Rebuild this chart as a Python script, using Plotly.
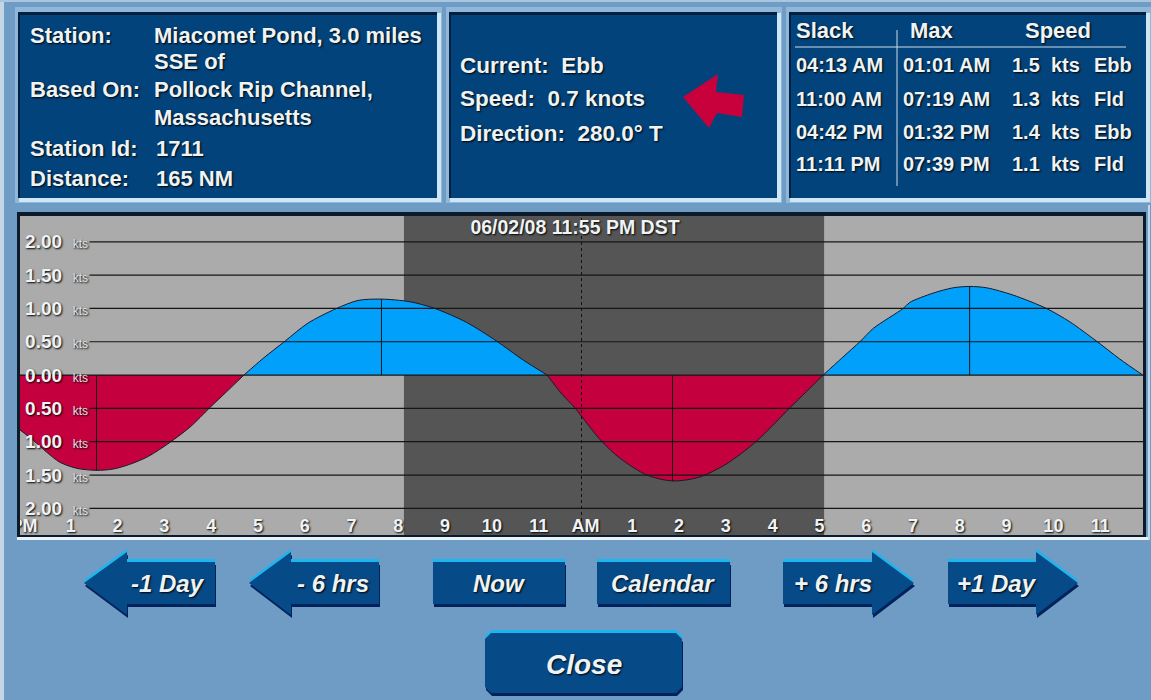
import plotly.graph_objects as go

W, H = 1151, 700
PL, PR, PT, PB = 20, 1143, 216, 535
FONT = "Liberation Sans"
TXT = "#eef3f6"
SHADOW = "1px 1px 2px #000000"

# ---------- chart data (hours after noon, knots; ebb negative) ----------
ebb1_h = [-0.09, 0.20, 0.49, 0.77, 1.13, 1.55, 1.91, 2.26, 2.66, 3.12, 3.55, 3.97, 4.33, 4.70]
ebb1_v = [-0.82, -0.98, -1.16, -1.31, -1.40, -1.43, -1.41, -1.34, -1.22, -1.01, -0.78, -0.49, -0.25, 0.0]
flood1_h = [4.70, 5.11, 5.58, 6.07, 6.68, 7.14, 7.64, 8.25, 8.78, 9.46, 10.10, 10.67, 11.18]
flood1_v = [0.0, 0.25, 0.51, 0.78, 1.00, 1.12, 1.14, 1.10, 1.00, 0.79, 0.51, 0.225, 0.0]
ebb2_h = [11.18, 11.49, 11.77, 12.06, 12.34, 12.74, 13.31, 13.86, 14.44, 15.02, 15.66, 16.37, 16.72, 17.08]
ebb2_v = [0.0, -0.28, -0.49, -0.75, -0.99, -1.25, -1.50, -1.59, -1.53, -1.33, -0.99, -0.49, -0.25, 0.0]
flood2_h = [17.08, 17.47, 17.88, 18.15, 18.79, 18.93, 19.43, 19.86, 20.21, 20.57, 21.14, 21.85, 22.35, 22.92, 23.42, 23.91]
flood2_v = [0.0, 0.25, 0.51, 0.70, 1.00, 1.09, 1.23, 1.31, 1.33, 1.31, 1.20, 1.00, 0.80, 0.51, 0.24, 0.0]
peak_hours = [1.55, 7.64, 13.86, 20.21]
peak_values = [-1.43, 1.14, -1.59, 1.33]
night_start, night_end = 8.12, 17.1
now_hour = 11.915
hour_range = [-0.085, 23.915]
kts_range = [-2.40, 2.387]
y_ticks = [2.0, 1.5, 1.0, 0.5, 0.0, -0.5, -1.0, -1.5, -2.0]
y_labels = ["2.00", "1.50", "1.00", "0.50", "0.00", "0.50", "1.00", "1.50", "2.00"]
x_ticks = list(range(24))
x_labels = ["PM", "1", "2", "3", "4", "5", "6", "7", "8", "9", "10", "11",
            "AM", "1", "2", "3", "4", "5", "6", "7", "8", "9", "10", "11"]
grid_start = 1.4
chart_title = "06/02/08 11:55 PM DST"

# ---------- panel text ----------
station_keys = ["Station:", "Based On:", "Station Id:", "Distance:"]
station_vals = ["Miacomet Pond, 3.0 miles", "SSE of", "Pollock Rip Channel,", "Massachusetts", "1711", "165 NM"]
current_lines = ["Current:  Ebb", "Speed:  0.7 knots", "Direction:  280.0° T"]
table_heads = ["Slack", "Max", "Speed"]
slack_times = ["04:13 AM", "11:00 AM", "04:42 PM", "11:11 PM"]
max_times = ["01:01 AM", "07:19 AM", "01:32 PM", "07:39 PM"]
max_speeds = ["1.5  kts", "1.3  kts", "1.4  kts", "1.1  kts"]
max_kinds = ["Ebb", "Fld", "Ebb", "Fld"]


def X(p):
    return (p - PL) / (PR - PL)


def Y(p):
    return (PB - p) / (PB - PT)


def rect(x0, y0, x1, y1, color, layer="below"):
    return dict(type="rect", xref="paper", yref="paper", x0=X(x0), x1=X(x1), y0=Y(y0), y1=Y(y1),
                fillcolor=color, line=dict(width=0), layer=layer)


def poly(points, color, dx=0, dy=0, layer="below"):
    d = "M " + " L ".join(f"{X(a + dx):.5f} {Y(b + dy):.5f}" for a, b in points) + " Z"
    return dict(type="path", xref="paper", yref="paper", path=d, fillcolor=color,
                line=dict(width=0), layer=layer)


def label(px, py, text, size=22, anchor="left"):
    return dict(xref="paper", yref="paper", x=X(px), y=Y(py), text=text, showarrow=False,
                xanchor=anchor, yanchor="middle", align=anchor, borderpad=0, borderwidth=0,
                font=dict(family=FONT, size=size, color=TXT, shadow=SHADOW))


shapes, notes = [], []

# page edges and panels
shapes.append(rect(0, 0, 4, H, "#c3d6e6"))
shapes.append(rect(0, 0, W, 2, "#a9c6de"))
PANEL = "#03437c"
for x0, y0, x1, y1 in [(18, 12, 437, 198), (449, 12, 777, 198), (789, 12, 1146, 198)]:
    shapes.append(rect(x0 - 3, y0 - 5, x1 + 5, y1 + 5, "#8fb7da"))
    shapes.append(rect(x0 + 1, y0 + 1, x1 + 4, y1 + 4, "#cfe6f5"))
    shapes.append(rect(x0, y0, x1, y1, PANEL))
    shapes.append(rect(x0, y0, x1, y0 + 3, "#021f3d"))
    shapes.append(rect(x0, y0, x0 + 2, y1, "#021f3d"))

# chart frame
shapes.append(rect(17, 212, 1146, 538, "#0c1a2a"))
shapes.append(rect(17, 537, 1150, 540, "#e6f3fa"))
shapes.append(rect(1148, 205, 1150, 540, "#bcd9ee"))
shapes.append(rect(PL, PT, PR, PB, "#ababab"))
# clips the noon label at the chart's left edge
shapes.append(rect(4, 216, 17, 536, "#6f9cc4", layer="above"))
shapes.append(rect(17, 216, 20, 535, "#0c1a2a", layer="above"))

# direction arrow
shapes.append(poly([(683, 97), (718, 74), (716, 92), (744, 95), (742, 117), (717, 113), (709, 128)], "#c8003c"))

# table rules
shapes.append(rect(795, 46.5, 1126, 47.5, "#c9dbe8"))
shapes.append(rect(896.5, 30, 897.5, 186, "#c9dbe8"))

# buttons
BODY, TOP, LOW = "#074a88", "#1cb6ef", "#02225c"


def button(points, text, cx, cy, size=24):
    shapes.append(poly(points, LOW, dx=1, dy=3))
    shapes.append(poly(points, TOP, dy=-3))
    shapes.append(poly(points, BODY))
    notes.append(label(cx, cy, f"<b><i>{text}</i></b>", size, "center"))


def left_arrow(x_tip, x_head, x_end):
    return [(x_tip, 583), (x_head, 552), (x_head, 562), (x_end, 562), (x_end, 604),
            (x_head, 604), (x_head, 615)]


def right_arrow(x_start, x_head, x_tip):
    return [(x_start, 562), (x_head, 562), (x_head, 552), (x_tip, 583), (x_head, 615),
            (x_head, 604), (x_start, 604)]


def box(x0, y0, x1, y1, c=0):
    return [(x0 + c, y0), (x1 - c, y0), (x1, y0 + c), (x1, y1 - c), (x1 - c, y1), (x0 + c, y1),
            (x0, y1 - c), (x0, y0 + c)]


button(left_arrow(84, 127, 215), "-1 Day", 168, 583)
button(left_arrow(249, 291, 379), "- 6 hrs", 333, 583)
button(box(433, 562, 565, 604), "Now", 499, 583)
button(box(597, 562, 730, 604), "Calendar", 663, 583)
button(right_arrow(783, 872, 914), "+ 6 hrs", 833, 583)
button(right_arrow(948, 1036, 1078), "+1 Day", 997, 583)
button(box(485, 633, 682, 693, 6), "Close", 584, 664, 28)

# panel text
for py, t in zip([36, 90, 149, 178], station_keys):
    notes.append(label(30, py, f"<b>{t}</b>"))
for px, py, t in zip([154, 154, 154, 154, 156, 156], [36, 62, 90, 118, 149, 178], station_vals):
    notes.append(label(px, py, f"<b>{t}</b>"))
for py, t in zip([65, 99, 133], current_lines):
    notes.append(label(460, py, f"<b>{t}</b>", 22.5))
for px, t in zip([796, 910, 1025], table_heads):
    notes.append(label(px, 30, f"<b>{t}</b>"))
for py, a, b, c, d in zip([65, 99, 132, 164], slack_times, max_times, max_speeds, max_kinds):
    notes.append(label(796, py, f"<b>{a}</b>", 20))
    notes.append(label(903, py, f"<b>{b}</b>", 20))
    notes.append(label(1012, py, f"<b>{c}</b>", 20))
    notes.append(label(1094, py, f"<b>{d}</b>", 20))

# night band (drawn on the chart's own axes)
shapes.append(dict(type="rect", xref="x", yref="paper", x0=night_start, x1=night_end, y0=0, y1=1,
                   fillcolor="#555555", line=dict(width=0), layer="below"))

fig = go.Figure()
RED, BLUE = "#c4003f", "#00a0fb"
for hs, vs, col in [(ebb1_h, ebb1_v, RED), (flood1_h, flood1_v, BLUE), (ebb2_h, ebb2_v, RED), (flood2_h, flood2_v, BLUE)]:
    fig.add_trace(go.Scatter(x=hs, y=vs, mode="lines", fill="tozeroy", fillcolor=col,
                             line=dict(color="#1a1a2a", width=1, shape="spline", smoothing=0.8),
                             showlegend=False, hoverinfo="skip"))

grid_x, grid_y = [], []
for v in y_ticks:
    grid_x += [hour_range[0] if v == 0 else grid_start, hour_range[1], None]
    grid_y += [v, v, None]
fig.add_trace(go.Scatter(x=grid_x, y=grid_y, mode="lines", line=dict(color="#161616", width=1.2),
                         showlegend=False, hoverinfo="skip"))
peak_x, peak_y = [], []
for h, v in zip(peak_hours, peak_values):
    peak_x += [h, h, None]
    peak_y += [0, v, None]
fig.add_trace(go.Scatter(x=peak_x, y=peak_y, mode="lines", line=dict(color="#161616", width=1),
                         showlegend=False, hoverinfo="skip"))
fig.add_trace(go.Scatter(x=[now_hour, now_hour], y=[-2.19, 2.387], mode="lines",
                         line=dict(color="#111111", width=1, dash="3px,3px"),
                         showlegend=False, hoverinfo="skip"))

y_text = [f"<b>{t}</b>  <span style='font-size:12px;color:#dfe3e6'>kts</span>" for t in y_labels]

fig.update_layout(
    width=W, height=H, autosize=False,
    margin=dict(l=PL, r=W - PR, t=PT, b=H - PB, pad=0),
    paper_bgcolor="#6f9cc4", plot_bgcolor="#ababab",
    showlegend=False, shapes=shapes, annotations=notes,
    title=dict(text=f"<b>{chart_title}</b>", x=575 / W, xanchor="center", xref="container",
               y=1 - 227 / H, yref="container", yanchor="middle",
               font=dict(family=FONT, size=19.5, color=TXT, shadow=SHADOW)),
    xaxis=dict(range=hour_range, tickmode="array", tickvals=x_ticks, ticktext=[f"<b>{t}</b>" for t in x_labels],
               showgrid=False, zeroline=False, showline=False, ticks="", ticklabelstandoff=-22,
               tickangle=0, tickfont=dict(family=FONT, size=18, color=TXT, shadow=SHADOW), fixedrange=True),
    yaxis=dict(range=kts_range, tickmode="array", tickvals=y_ticks, ticktext=y_text,
               showgrid=False, zeroline=False, showline=False, ticks="", ticklabelstandoff=-69,
               tickfont=dict(family=FONT, size=19, color=TXT, shadow=SHADOW), fixedrange=True),
)

fig.write_html("out.html", config=dict(displayModeBar=False),
               post_script="document.body.style.margin='0';document.body.style.overflow='hidden';")
